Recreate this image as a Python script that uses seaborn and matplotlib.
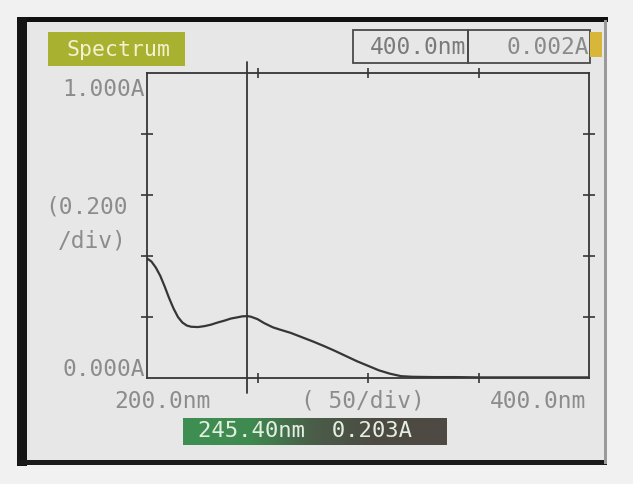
import numpy as np
import pandas as pd
import matplotlib
matplotlib.use("Agg")
import matplotlib.pyplot as plt
import matplotlib.patches as mpatches
import seaborn as sns

# spectrum (nm, absorbance)
wavelength = [200, 202, 204, 206, 208, 210, 212, 214, 216, 218, 220, 223, 226,
              229, 232, 235, 238, 241, 243, 245.4, 247, 250, 253, 257, 260, 265,
              270, 275, 280, 285, 290, 295, 300, 305, 310, 315, 320, 330, 340,
              350, 360, 370, 380, 390, 400]
absorbance = [0.392, 0.382, 0.362, 0.335, 0.300, 0.262, 0.228, 0.200, 0.182,
              0.172, 0.168, 0.167, 0.170, 0.175, 0.182, 0.188, 0.195, 0.199,
              0.202, 0.203, 0.201, 0.193, 0.180, 0.166, 0.159, 0.148, 0.134,
              0.120, 0.105, 0.089, 0.072, 0.055, 0.040, 0.025, 0.014, 0.006,
              0.004, 0.003, 0.003, 0.002, 0.002, 0.002, 0.002, 0.002, 0.002]
cursor_nm = 245.4
cursor_abs = 0.203
end_nm = 400.0
end_abs = 0.002
y_ticks = [0.2, 0.4, 0.6, 0.8]
x_ticks = [250, 300, 350]

W, H = 633, 484
GRAY_TXT = "#8c8c8c"
LINE = "#363636"
MONO = ["DejaVu Sans Mono"]

sns.set_style("white")
plt.rcParams["font.family"] = MONO


def fx(x):
    return x / W


def fy(y):
    return 1 - y / H


def rect(fig, x0, y0, x1, y1, z=-5, **kw):
    r = mpatches.Rectangle((fx(x0), fy(y1)), fx(x1) - fx(x0), fy(y0) - fy(y1),
                           transform=fig.transFigure, zorder=z, **kw)
    fig.patches.append(r)
    return r


fig = plt.figure(figsize=(W / 100, H / 100), dpi=100)
fig.patch.set_facecolor("#f1f1f1")

# screen + black bezel
rect(fig, 20, 18, 607, 465, z=-10, facecolor="#e7e7e7", edgecolor="none")
rect(fig, 18, 17, 608, 22, facecolor="#111111", edgecolor="none")
rect(fig, 17, 17, 27, 466, facecolor="#151515", edgecolor="none")
rect(fig, 18, 460, 607, 465, facecolor="#1a1a1a", edgecolor="none")
rect(fig, 604, 20, 607, 464, facecolor="#9a9a9a", edgecolor="none")

# header boxes
rect(fig, 48, 32, 185, 66, facecolor="#a9b131", edgecolor="none")
fig.text(fx(118), fy(50), "Spectrum", color="#f3f1cf", fontsize=15.5,
         ha="center", va="center")
rect(fig, 353, 30, 468, 63, facecolor="none", edgecolor="#4a4a4a", lw=1.3)
rect(fig, 468, 30, 590, 63, facecolor="none", edgecolor="#4a4a4a", lw=1.3)
rect(fig, 590, 32, 602, 57, facecolor="#d8b63a", edgecolor="none")
fig.text(fx(466), fy(47), f"{end_nm:.1f}nm", color="#7a7a7a", fontsize=16.5,
         ha="right", va="center")
fig.text(fx(589), fy(47), f"{end_abs:.3f}A", color="#8a8a8a", fontsize=16.5,
         ha="right", va="center")

# plot area
ax = fig.add_axes([fx(147), fy(378), fx(589) - fx(147), fy(73) - fy(378)])
ax.set_facecolor("none")
df = pd.DataFrame({"nm": wavelength, "A": absorbance})
sns.lineplot(data=df, x="nm", y="A", ax=ax, color=LINE, lw=1.6)
ax.axvline(cursor_nm, ymin=-0.049, ymax=1.036, color=LINE, lw=1.3, clip_on=False)
ax.set_xlim(200, 400)
ax.set_ylim(0, 1.0)
ax.set_xlabel("")
ax.set_ylabel("")
for s in ax.spines.values():
    s.set_color(LINE)
    s.set_linewidth(1.3)
ax.set_yticks(y_ticks)
ax.set_xticks(x_ticks)
ax.tick_params(axis="y", left=True, right=True, direction="inout", length=8,
               width=1.2, color=LINE, labelleft=False)
ax.tick_params(axis="x", bottom=True, top=True, direction="inout", length=7,
               width=1.2, color=LINE, labelbottom=False)

# axis captions
fs = 16.5
fig.text(fx(145), fy(89), "1.000A", color=GRAY_TXT, fontsize=fs, ha="right", va="center")
fig.text(fx(128), fy(207), "(0.200", color=GRAY_TXT, fontsize=fs, ha="right", va="center")
fig.text(fx(127), fy(241), "/div)", color=GRAY_TXT, fontsize=fs, ha="right", va="center")
fig.text(fx(145), fy(370), "0.000A", color=GRAY_TXT, fontsize=fs, ha="right", va="center")
fig.text(fx(162), fy(401), "200.0nm", color=GRAY_TXT, fontsize=fs, ha="center", va="center")
fig.text(fx(363), fy(401), "( 50/div)", color=GRAY_TXT, fontsize=fs, ha="center", va="center")
fig.text(fx(538), fy(401), "400.0nm", color=GRAY_TXT, fontsize=fs, ha="center", va="center")

# cursor readout bar, green fading into dark
grad = np.linspace(0, 1, 256)[None, :]
cmap = matplotlib.colors.LinearSegmentedColormap.from_list(
    "bar", ["#3f8f52", "#3f8a50", "#4a5c48", "#4d4a42", "#4f4a44"])
bax = fig.add_axes([fx(183), fy(445), fx(447) - fx(183), fy(418) - fy(445)])
bax.imshow(grad, aspect="auto", cmap=cmap, extent=[0, 1, 0, 1])
bax.set_axis_off()
fig.text(fx(198), fy(431), f"{cursor_nm:.2f}nm  {cursor_abs:.3f}A",
         color="#e4eee2", fontsize=16, ha="left", va="center")

fig.savefig("out.png", dpi=100, facecolor=fig.get_facecolor())
